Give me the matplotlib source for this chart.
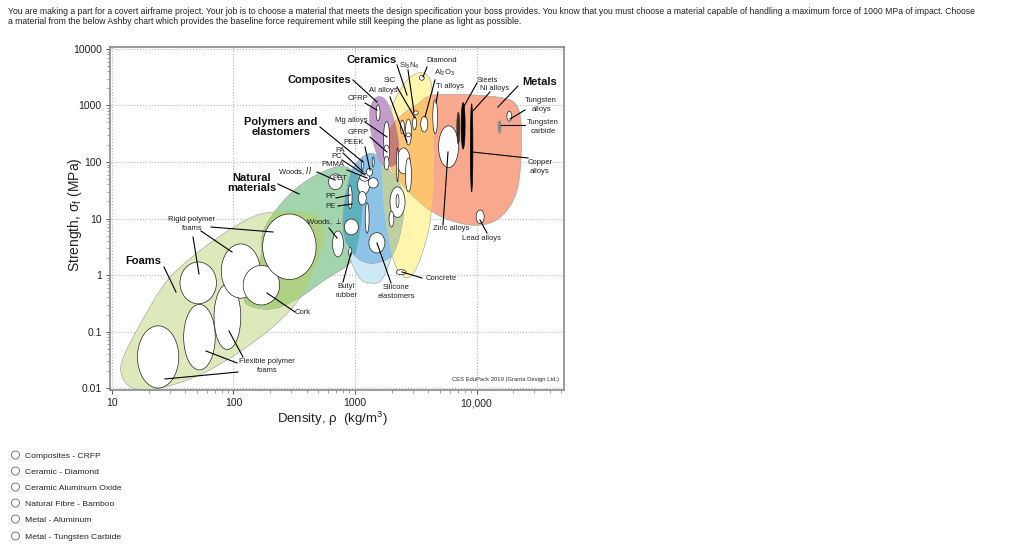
import numpy as np
import matplotlib
matplotlib.use("Agg")
import matplotlib.pyplot as plt
from matplotlib.lines import Line2D
from matplotlib.patches import PathPatch, Circle
from matplotlib.path import Path
from matplotlib.transforms import Affine2D
from matplotlib.ticker import LogLocator, NullFormatter

plt.rcParams["font.family"] = ["Liberation Sans", "DejaVu Sans"]
plt.rcParams["mathtext.default"] = "regular"

# region outlines, log10 density / log10 strength
foam_x = [1.08, 1.17, 1.40, 1.72, 2.05, 2.36, 2.57, 2.74, 2.73, 2.63, 2.38, 2.16, 1.83, 1.47, 1.23, 1.09]
foam_y = [-1.77, -2.0, -2.0, -1.77, -1.36, -0.85, -0.32, 0.57, 0.92, 1.10, 1.12, 1.03, 0.60, -0.06, -0.88, -1.48]
natural_x = [2.10, 2.24, 2.38, 2.55, 2.75, 2.96, 3.02, 3.06, 3.04, 2.93, 2.77, 2.55, 2.36, 2.24, 2.22, 2.11]
natural_y = [-0.50, -0.60, -0.57, -0.39, -0.09, 0.21, 0.53, 1.15, 1.68, 1.91, 1.86, 1.59, 1.18, 0.74, 0.27, -0.27]
polymer_x = [3.10, 3.18, 3.25, 3.37, 3.40, 3.37, 3.31, 3.22, 3.12, 3.02, 2.93, 2.90, 2.94, 3.00]
polymer_y = [2.14, 2.12, 1.95, 1.59, 1.15, 0.71, 0.36, 0.24, 0.21, 0.30, 0.57, 0.97, 1.59, 1.95]
elastomer_x = [2.96, 3.29, 3.33, 3.23, 3.12, 3.02, 2.92]
elastomer_y = [1.33, 1.33, 0.62, -0.05, -0.14, 0.0, 0.62]
composite_x = [3.18, 3.27, 3.35, 3.35, 3.23, 3.15, 3.12]
composite_y = [3.15, 3.04, 2.48, 2.0, 1.95, 2.35, 2.88]
ceramic_x = [3.53, 3.62, 3.64, 3.65, 3.62, 3.57, 3.50, 3.43, 3.36, 3.31, 3.25, 3.22, 3.25, 3.29, 3.41]
ceramic_y = [3.58, 3.45, 2.92, 1.86, 0.97, 0.50, 0.10, -0.05, 0.07, 0.32, 1.03, 1.89, 2.40, 2.90, 3.40]
metal_x = [3.67, 4.17, 4.34, 4.37, 4.33, 4.19, 4.00, 3.78, 3.59, 3.37, 3.27, 3.28, 3.37, 3.52]
metal_y = [3.19, 3.15, 2.96, 2.30, 1.47, 1.01, 0.88, 0.97, 1.19, 1.65, 2.07, 2.55, 2.80, 3.03]

# material bubbles: centre and half size, in decades
bubble_x = [1.38, 1.72, 1.95, 1.71, 2.06, 2.23, 2.46, 2.86, 2.97, 3.18, 3.10, 2.96, 3.38, 4.03, 3.77,
            3.66, 3.57, 3.55, 3.49, 3.50, 3.39, 3.44, 3.44, 3.40, 3.44, 3.35, 3.30, 3.35, 3.19, 3.26,
            3.26, 3.26, 4.27, 2.84, 2.96, 3.07, 3.06, 3.08, 3.15, 3.12, 3.06, 3.15, 3.35]
bubble_y = [-1.45, -1.10, -0.74, -0.14, 0.07, -0.18, 0.50, 0.55, 0.85, 0.57, 1.01, 0.41, 0.05, 1.03, 2.27,
            2.80, 2.67, 3.49, 2.69, 2.87, 2.62, 2.53, 2.48, 2.02, 1.77, 1.29, 0.99, 1.95, 2.87, 2.42,
            2.16, 1.98, 2.81, 1.65, 1.38, 1.59, 1.36, 1.73, 1.63, 1.82, 1.95, 2.0, 1.31]
bubble_w = [.17, .13, .11, .15, .16, .15, .22, .045, .058, .066, .016, .012, .041, .033, .082,
            .02, .029, .02, .016, .02, .016, .025, .02, .053, .025, .062, .02, .008, .016, .025,
            .025, .02, .02, .058, .016, .05, .033, .041, .041, .025, .008, .008, .012]
bubble_h = [.55, .58, .58, .37, .48, .35, .58, .23, .14, .18, .27, .08, .044, .12, .37,
            .30, .14, .044, .12, .035, .12, .23, .035, .23, .30, .27, .14, .30, .14, .30,
            .14, .12, .09, .14, .21, .16, .12, .07, .09, .07, .09, .09, .12]
dark_x = [3.89, 3.85, 3.96, 4.19]
dark_y = [2.64, 2.60, 2.25, 2.62]
dark_w = [.016, .012, .01, .012]
dark_h = [.41, .28, .78, .11]
dark_c = ["black", "#333333", "black", "#888888"]

x_ticks = [10, 100, 1000, 10000]
x_labels = ["10", "100", "1000", "10,000"]
y_ticks = [0.01, 0.1, 1, 10, 100, 1000, 10000]
y_labels = ["0.01", "0.1", "1", "10", "100", "1000", "10000"]

header = ("You are making a part for a covert airframe project. Your job is to choose a material that meets the design "
          "specification your boss provides. You know that you must choose a material capable of handling a maximum "
          "force of 1000 MPa of impact. Choose")
header2 = ("a material from the below Ashby chart which provides the baseline force requirement while still keeping "
           "the plane as light as possible.")
options = ["Composites - CRFP", "Ceramic - Diamond", "Ceramic Aluminum Oxide",
           "Natural Fibre - Bamboo", "Metal - Aluminum", "Metal - Tungsten Carbide"]
option_y = [455, 471, 487, 503, 519, 536]

# labels in image pixels (x, y, text)
big_labels = [(372, 60, "Ceramics"), (319, 80, "Composites"), (281, 127, "Polymers and\nelastomers"),
              (252, 183, "Natural\nmaterials"), (143, 261, "Foams"), (540, 82, "Metals")]
small_labels = [(409, 66, "Si$_3$N$_4$"), (442, 60, "Diamond"), (444, 73, "Al$_2$O$_3$"), (450, 87, "Ti alloys"),
                (390, 80, "SiC"), (383, 90, "Al alloys"), (358, 98, "CFRP"), (351, 120, "Mg alloys"),
                (358, 132, "GFRP"), (354, 143, "PEEK"), (340, 150, "PA"), (337, 157, "PC"), (333, 165, "PMMA"),
                (295, 171, "Woods, $\\mathit{II}$"), (340, 178, "PET"), (330, 197, "PP"), (330, 206, "PE"),
                (324, 222, "Woods, $\\perp$"), (487, 80, "Steels"), (495, 88, "Ni alloys"),
                (541, 105, "Tungsten\nalloys"), (543, 127, "Tungsten\ncarbide"), (540, 167, "Copper\nalloys"),
                (451, 229, "Zinc alloys"), (481, 238, "Lead alloys"), (441, 278, "Concrete"),
                (396, 292, "Silicone\nelastomers"), (346, 291, "Butyl\nrubber"), (303, 313, "Cork"),
                (192, 224, "Rigid polymer\nfoams"), (267, 366, "Flexible polymer\nfoams")]
leaders = [(397, 65, 407, 95), (408, 70, 414, 112), (427, 67, 423, 77), (435, 80, 425, 117), (438, 92, 436, 103),
           (397, 87, 415, 118), (390, 97, 407, 142), (365, 103, 377, 110), (353, 80, 377, 102), (365, 122, 387, 137),
           (370, 137, 387, 152), (365, 147, 370, 170), (320, 127, 363, 162), (343, 153, 363, 172), (342, 160, 365, 175),
           (347, 170, 367, 178), (317, 172, 335, 180), (278, 184, 299, 194), (336, 198, 350, 195), (338, 206, 352, 204),
           (329, 228, 337, 238), (477, 83, 463, 108), (490, 92, 472, 112), (518, 86, 498, 107), (525, 110, 510, 119),
           (525, 125, 501, 125), (528, 158, 472, 152), (443, 225, 448, 152), (487, 233, 480, 220), (422, 278, 402, 272),
           (391, 283, 377, 243), (343, 282, 351, 253), (295, 312, 267, 293), (164, 267, 176, 292), (211, 227, 273, 232),
           (201, 231, 232, 252), (193, 237, 199, 274), (237, 363, 206, 351), (243, 357, 229, 331), (238, 372, 165, 379)]


def region_path(log_x, log_y):
    # closed smooth outline, bezier handles from the neighbouring points
    pts = np.column_stack([log_x, log_y])
    n = len(pts)
    verts = [pts[0]]
    codes = [Path.MOVETO]
    for i in range(n):
        p0, p1, p2, p3 = pts[i - 1], pts[i], pts[(i + 1) % n], pts[(i + 2) % n]
        verts += [p1 + (p2 - p0) / 6, p2 - (p3 - p1) / 6, p2]
        codes += [Path.CURVE4] * 3
    return Path(10 ** np.array(verts), codes)


def bubble_path(x, y, w, h):
    circle = Path.unit_circle()
    verts = circle.vertices * [w, h] + [x, y]
    return Path(10 ** verts, circle.codes)


W, H = 1024, 549
fig = plt.figure(figsize=(W / 100, H / 100), dpi=100)
ax = fig.add_axes([110 / W, 1 - 390 / H, 454 / W, 343 / H])
ax.set_xscale("log")
ax.set_yscale("log")
ax.set_xlim(10 ** 0.984, 10 ** 4.72)
ax.set_ylim(10 ** -2.035, 10 ** 4.035)


def add_region(log_x, log_y, color, z, edge="#9a9a9a"):
    patch = PathPatch(region_path(log_x, log_y), facecolor=color, edgecolor=edge, lw=0.4, zorder=z)
    ax.add_patch(patch)
    return patch


def add_overlap(a, b, color, z):
    # a clipped by b gives the mixed colour of the printed chart
    patch = PathPatch(region_path(*a), facecolor=color, edgecolor="none", zorder=z)
    ax.add_patch(patch)
    patch.set_clip_path(add_region(*b, "none", 0, edge="none"))


foam = (foam_x, foam_y)
natural = (natural_x, natural_y)
polymer = (polymer_x, polymer_y)
elastomer = (elastomer_x, elastomer_y)
composite = (composite_x, composite_y)
ceramic = (ceramic_x, ceramic_y)
metal = (metal_x, metal_y)

add_region(*foam, "#DDE9BA", 2)
add_region(*natural, "#A2D5AE", 2.1)
add_overlap(foam, natural, "#ADD083", 2.2)
add_region(*ceramic, "#FFF5AD", 2.3)
add_region(*elastomer, "#CDE9F8", 2.4)
add_region(*polymer, "#8EC3E8", 2.5)
add_overlap(polymer, natural, "#5FB0BD", 2.6)
add_region(*metal, "#F7A88D", 2.7)
add_overlap(metal, ceramic, "#FDC46F", 2.8)
add_overlap(ceramic, polymer, "#BED0A2", 2.85)
add_overlap(ceramic, elastomer, "#D5E2C0", 2.84)
add_region(*composite, "#C49CCB", 2.9)
add_overlap(composite, metal, "#C77D77", 2.95)

for x, y, w, h in zip(bubble_x, bubble_y, bubble_w, bubble_h):
    ax.add_patch(PathPatch(bubble_path(x, y, w, h), facecolor="white", edgecolor="#222222", lw=0.5, zorder=3))
for x, y, w, h, c in zip(dark_x, dark_y, dark_w, dark_h, dark_c):
    ax.add_patch(PathPatch(bubble_path(x, y, w, h), facecolor=c, edgecolor=c, lw=0.5, zorder=3))

ax.set_xticks(x_ticks)
ax.set_xticklabels(x_labels, fontsize=7.5, color="#222222")
ax.set_yticks(y_ticks)
ax.set_yticklabels(y_labels, fontsize=7.5, color="#222222")
ax.xaxis.set_minor_locator(LogLocator(base=10, subs=np.arange(2, 10), numticks=12))
ax.yaxis.set_minor_locator(LogLocator(base=10, subs=np.arange(2, 10), numticks=12))
ax.xaxis.set_minor_formatter(NullFormatter())
ax.yaxis.set_minor_formatter(NullFormatter())
ax.tick_params(which="major", length=3, width=0.7, color="#555555", pad=3)
ax.tick_params(which="minor", length=2, width=0.5, color="#777777")
ax.grid(True, which="major", ls=":", lw=0.8, color="#b5b5b5", zorder=1)
ax.set_axisbelow(True)
for s in ax.spines.values():
    s.set_color("#8a8a8a")
    s.set_linewidth(1.2)

px = Affine2D().scale(1, -1).translate(0, H)
for x0, y0, x1, y1 in leaders:
    fig.add_artist(Line2D([x0, x1], [y0, y1], color="black", lw=0.8, transform=px, zorder=5))
for x, y, s in big_labels:
    fig.text(x, y, s, transform=px, fontsize=8, fontweight="bold", ha="center", va="center",
             linespacing=0.9, color="#111111", zorder=6)
for x, y, s in small_labels:
    fig.text(x, y, s, transform=px, fontsize=5.5, ha="center", va="center", linespacing=1.3,
             color="#222222", zorder=6)
fig.text(505, 380, "CES EduPack 2019 (Granta Design Ltd.)", transform=px, fontsize=4.2, ha="center",
         va="center", color="#333333", zorder=6)

fig.text(332, 419, "Density, $\\rho$  (kg/m$^3$)", transform=px, fontsize=9.5, ha="center", va="center",
         color="#222222")
fig.text(75, 215, "Strength, $\\sigma_f$ (MPa)", transform=px, fontsize=10, rotation=90, ha="center",
         va="center", color="#222222")

fig.text(8, 11, header, transform=px, fontsize=6.24, va="center", color="#222222")
fig.text(8, 21, header2, transform=px, fontsize=6.24, va="center", color="#222222")
for y, s in zip(option_y, options):
    fig.add_artist(Circle((15.5, y), 4, transform=px, facecolor="white", edgecolor="#777777", lw=0.7))
    fig.text(25, y + 1.5, s, transform=px, fontsize=6.1, va="center", color="#222222")

fig.savefig("out.png", dpi=100)
